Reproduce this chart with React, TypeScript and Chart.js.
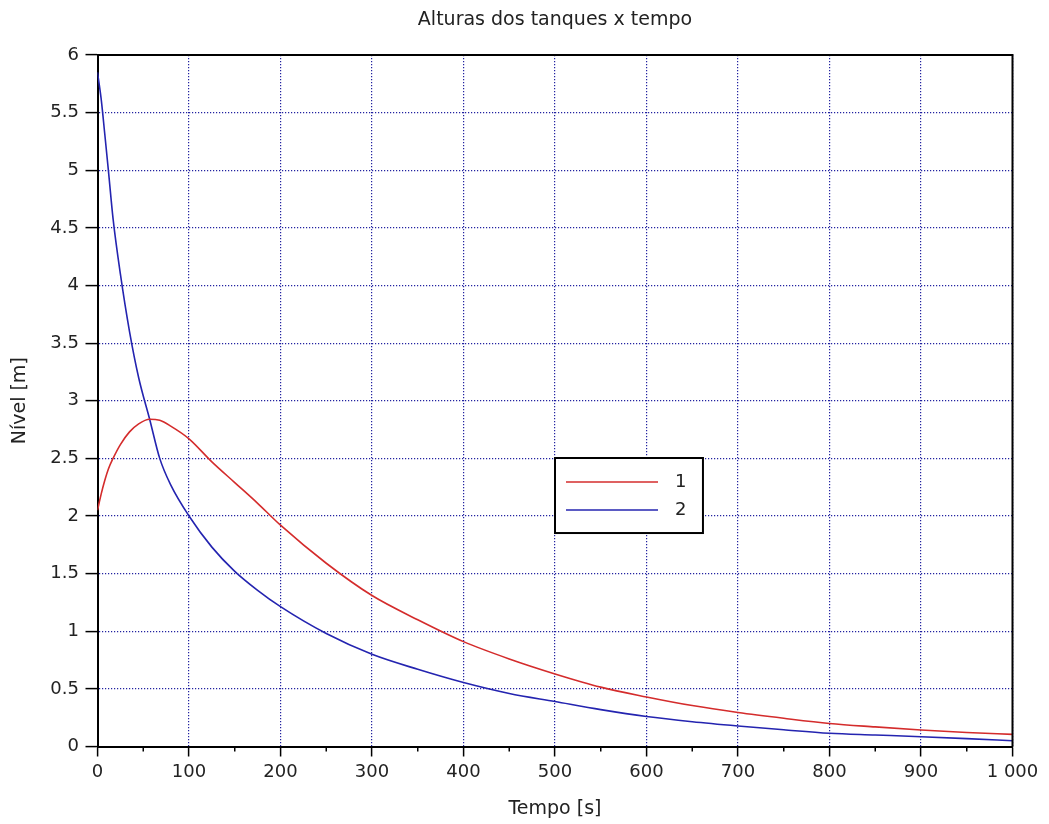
import React, { useEffect, useRef } from 'react';
import { Chart, registerables } from 'chart.js';

Chart.register(...registerables);

// time samples [s]
const times = [0, 4, 8, 12, 17, 25, 35, 45, 57, 68, 80, 100, 125, 150, 175, 200, 250, 300, 350, 400, 450, 500, 550, 600, 650, 700, 750, 800, 850, 900, 950, 1000];
// tank 1 level [m]
const level1 = [2.05, 2.19, 2.31, 2.41, 2.5, 2.62, 2.73, 2.8, 2.84, 2.83, 2.78, 2.67, 2.47, 2.29, 2.11, 1.92, 1.59, 1.31, 1.1, 0.91, 0.76, 0.63, 0.515, 0.43, 0.355, 0.295, 0.245, 0.2, 0.17, 0.143, 0.122, 0.105];
// tank 2 level [m]
const level2 = [5.85, 5.62, 5.31, 4.99, 4.58, 4.1, 3.6, 3.2, 2.84, 2.5, 2.27, 2.0, 1.73, 1.52, 1.355, 1.213, 0.98, 0.8, 0.67, 0.555, 0.46, 0.39, 0.32, 0.26, 0.215, 0.178, 0.145, 0.115, 0.1, 0.085, 0.068, 0.05];

const seriesNames = ['1', '2'];
const xTickValues = [0, 100, 200, 300, 400, 500, 600, 700, 800, 900, 1000];
const xTickLabels = ['0', '100', '200', '300', '400', '500', '600', '700', '800', '900', '1 000'];
const xMinorTicks = [50, 150, 250, 350, 450, 550, 650, 750, 850, 950];
const yTickValues = [0, 0.5, 1, 1.5, 2, 2.5, 3, 3.5, 4, 4.5, 5, 5.5, 6];

const RED = '#d42c2c';
const BLUE = '#2424b0';
const GRID = '#2222a0';
const FONT = 'DejaVu Sans';
const TEXT = '#222222';

const framePlugin = {
  id: 'frameAndLegend',
  afterDraw(chart: any) {
    const { ctx, chartArea: ca, scales } = chart;
    ctx.save();
    // frame (top & right)
    ctx.strokeStyle = '#000';
    ctx.lineWidth = 2;
    ctx.beginPath();
    ctx.moveTo(ca.left, ca.top);
    ctx.lineTo(ca.right, ca.top);
    ctx.lineTo(ca.right, ca.bottom);
    ctx.stroke();
    // minor ticks on x axis
    ctx.lineWidth = 1.5;
    ctx.beginPath();
    for (const v of xMinorTicks) {
      const px = scales.x.getPixelForValue(v);
      ctx.moveTo(px, ca.bottom);
      ctx.lineTo(px, ca.bottom + 5);
    }
    ctx.stroke();

    // legend box
    const w = ca.right - ca.left;
    const h = ca.bottom - ca.top;
    const bx0 = ca.left + 0.5 * w;
    const bx1 = ca.left + 0.6617 * w;
    const by0 = ca.top + 0.5828 * h;
    const by1 = ca.top + 0.6913 * h;
    ctx.fillStyle = '#fff';
    ctx.fillRect(bx0, by0, bx1 - bx0, by1 - by0);
    ctx.strokeStyle = '#000';
    ctx.lineWidth = 2;
    ctx.strokeRect(bx0, by0, bx1 - bx0, by1 - by0);
    const colors = [RED, BLUE];
    const rowY = [by0 + 24, by0 + 52];
    ctx.font = `18px "${FONT}"`;
    ctx.textBaseline = 'middle';
    ctx.textAlign = 'left';
    for (let i = 0; i < 2; i++) {
      ctx.strokeStyle = colors[i];
      ctx.lineWidth = 1.6;
      ctx.beginPath();
      ctx.moveTo(bx0 + 11, rowY[i]);
      ctx.lineTo(bx0 + 103, rowY[i]);
      ctx.stroke();
      ctx.fillStyle = TEXT;
      ctx.fillText(seriesNames[i], bx0 + 120, rowY[i]);
    }
    ctx.restore();
  },
};

export default function App() {
  const canvasRef = useRef<HTMLCanvasElement | null>(null);

  useEffect(() => {
    if (!canvasRef.current) return;
    const gridOpts = {
      color: GRID,
      lineWidth: 1.2,
      drawTicks: true,
      tickColor: '#000',
      tickWidth: 1.5,
      tickBorderDash: [],
    };
    const chart = new Chart(canvasRef.current, {
      type: 'line',
      data: {
        datasets: [
          {
            label: seriesNames[0],
            data: times.map((t, i) => ({ x: t, y: level1[i] })),
            borderColor: RED,
            borderWidth: 1.6,
            pointRadius: 0,
            cubicInterpolationMode: 'monotone',
            fill: false,
          },
          {
            label: seriesNames[1],
            data: times.map((t, i) => ({ x: t, y: level2[i] })),
            borderColor: BLUE,
            borderWidth: 1.6,
            pointRadius: 0,
            cubicInterpolationMode: 'monotone',
            fill: false,
          },
        ],
      },
      options: {
        responsive: false,
        animation: false,
        layout: { padding: { top: 0, right: 36.5, bottom: 0, left: 0 } },
        plugins: {
          legend: { display: false },
          tooltip: { enabled: false },
          title: {
            display: true,
            text: 'Alturas dos tanques x tempo',
            fullSize: false,
            color: TEXT,
            font: { family: FONT, size: 19, weight: 'normal' },
            padding: { top: 9.1, bottom: 23.1 },
          },
        },
        scales: {
          x: {
            type: 'linear',
            min: 0,
            max: 1000,
            afterBuildTicks: (scale: any) => {
              scale.ticks = xTickValues.map((v) => ({ value: v }));
            },
            afterFit: (scale: any) => {
              scale.height = 77.5;
            },
            ticks: {
              autoSkip: false,
              maxRotation: 0,
              padding: 4.7,
              color: TEXT,
              font: { family: FONT, size: 18 },
              callback: (v: any) => {
                const i = xTickValues.indexOf(Number(v));
                return i >= 0 ? xTickLabels[i] : '';
              },
            },
            grid: { ...gridOpts, tickLength: 10 },
            border: { display: true, color: '#000', width: 2, dash: [1.2, 1.8] },
            title: {
              display: true,
              text: 'Tempo [s]',
              color: TEXT,
              font: { family: FONT, size: 19 },
              padding: { top: 0, bottom: 3.1 },
            },
          },
          y: {
            type: 'linear',
            min: 0,
            max: 6,
            afterBuildTicks: (scale: any) => {
              scale.ticks = yTickValues.map((v) => ({ value: v }));
            },
            afterFit: (scale: any) => {
              scale.width = 97.5;
            },
            ticks: {
              autoSkip: false,
              padding: 6.5,
              color: TEXT,
              font: { family: FONT, size: 18 },
              callback: (v: any) => String(v),
            },
            grid: { ...gridOpts, tickLength: 12 },
            border: { display: true, color: '#000', width: 2, dash: [1.2, 1.8] },
            title: {
              display: true,
              text: 'Nível [m]',
              color: TEXT,
              font: { family: FONT, size: 19 },
              padding: { top: 8.6, bottom: 0 },
            },
          },
        },
      },
      plugins: [framePlugin],
    } as any);
    return () => chart.destroy();
  }, []);

  return (
    <div style={{ position: 'absolute', left: 0, top: 0, width: 1049, height: 824, background: '#fff' }}>
      <canvas ref={canvasRef} width={1049} height={824} style={{ display: 'block' }} />
    </div>
  );
}
